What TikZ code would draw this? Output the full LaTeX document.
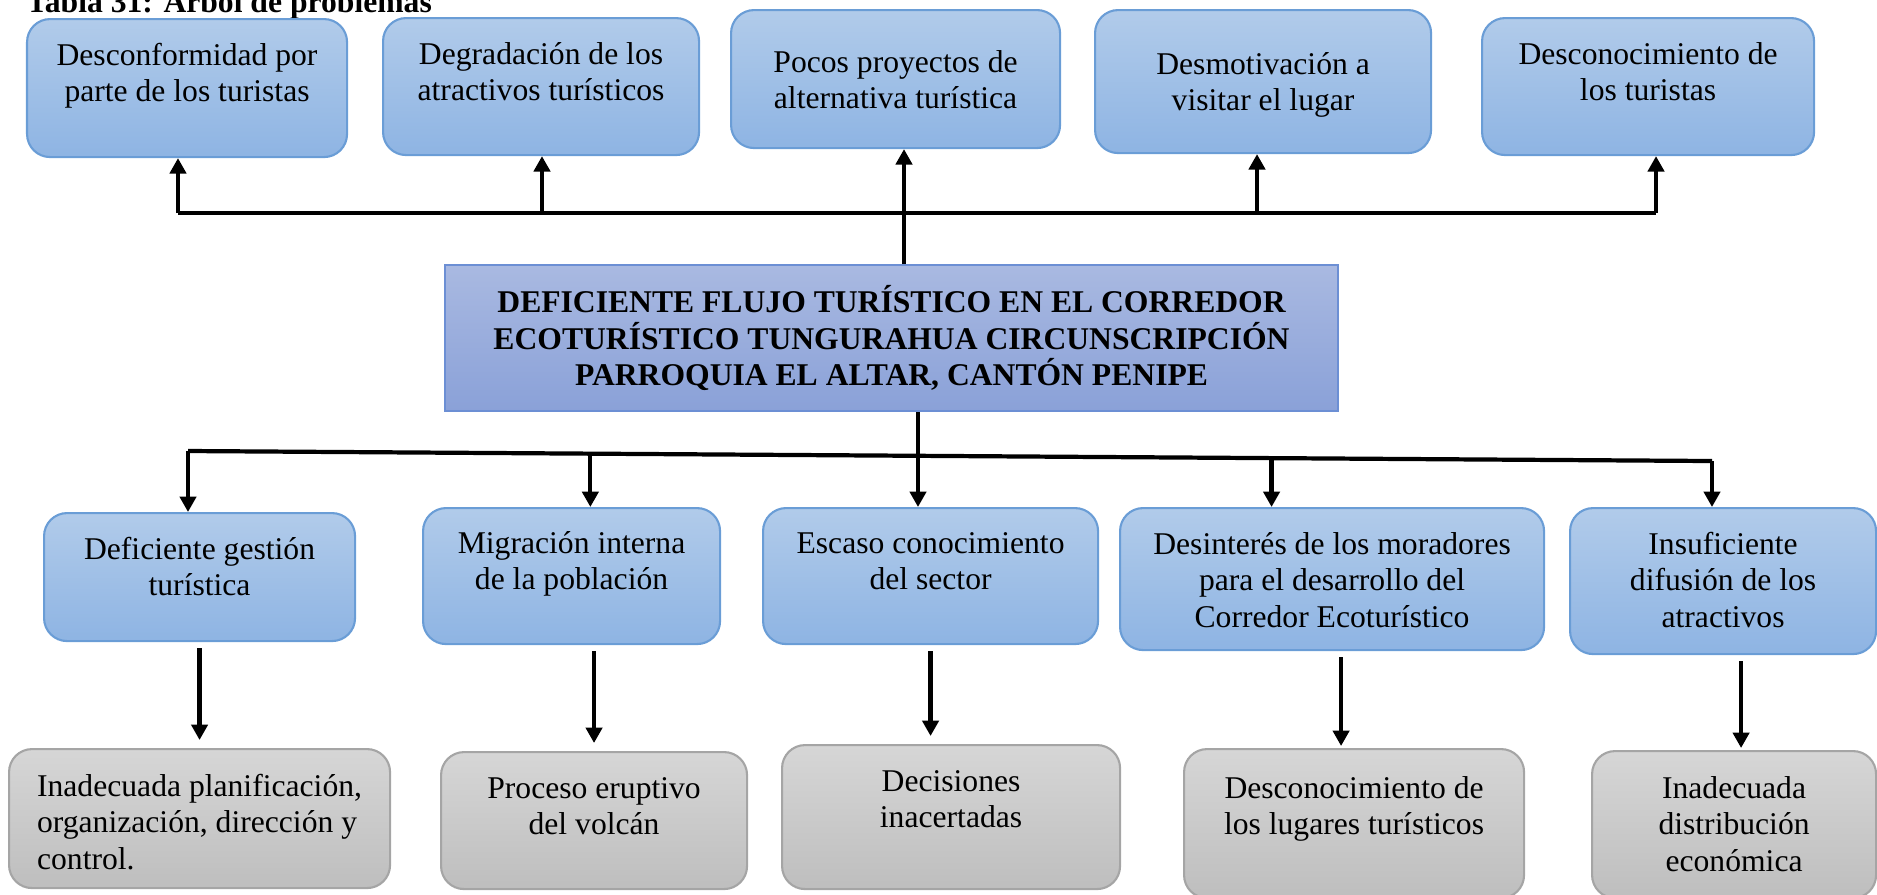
\documentclass[tikz,border=0pt]{standalone}
\usepackage{fontspec}
\setmainfont{Liberation Serif}
\usetikzlibrary{arrows.meta,calc}

\definecolor{azularriba}{HTML}{B1CBEA}
\definecolor{azulabajo}{HTML}{8EB4E3}
\definecolor{azulborde}{HTML}{6A9DD6}
\definecolor{grisarriba}{HTML}{D6D6D6}
\definecolor{grisabajo}{HTML}{BEBEBE}
\definecolor{grisborde}{HTML}{A5A5A5}
\definecolor{lilaarriba}{HTML}{A9B9E1}
\definecolor{lilaabajo}{HTML}{8AA1D8}
\definecolor{lilaborde}{HTML}{6C8FD4}

\tikzset{
    caja/.style n args={3}{minimum width=#1, text height=#2, text depth=#3},
    efecto/.style={draw=azulborde, line width=0.6pt, rounded corners=0.23cm,
        top color=azularriba, bottom color=azulabajo, inner sep=0pt,
        align=center, anchor=north west, font=\fontsize{9}{10.4}\selectfont},
    raiz/.style={efecto, draw=grisborde, top color=grisarriba, bottom color=grisabajo},
    problema/.style={draw=lilaborde, line width=0.6pt, top color=lilaarriba,
        bottom color=lilaabajo, inner sep=0pt, align=center, anchor=north west,
        minimum width=8.93cm, minimum height=1.46cm,
        font=\bfseries\fontsize{9}{10.5}\selectfont},
    tronco/.style={line width=1.2pt},
    flecha/.style={line width=1.2pt, ->}
}

\begin{document}
\begin{tikzpicture}[>={Triangle[width=4.6pt,length=4.4pt]}]
    \useasboundingbox (0,0) rectangle (18.77,-8.94);

    \node[anchor=base west, inner sep=0pt, font=\bfseries\fontsize{9}{10.4}\selectfont]
        (titulo) at (0.26,-0.125) {Tabla 31: Árbol de problemas};

    % efectos
    \node[efecto, caja={3.20cm}{0.826cm}{0.554cm}] (e1) at (0.26,-0.18) {Desconformidad por\\parte de los turistas};
    \node[efecto, caja={3.16cm}{0.826cm}{0.544cm}] (e2) at (3.82,-0.17) {Degradación de los\\atractivos turísticos};
    \node[efecto, caja={3.29cm}{0.986cm}{0.394cm}] (e3) at (7.30,-0.09) {Pocos proyectos de\\alternativa turística};
    \node[efecto, caja={3.36cm}{1.006cm}{0.424cm}] (e4) at (10.94,-0.09) {Desmotivación a\\visitar el lugar};
    \node[efecto, caja={3.32cm}{0.826cm}{0.544cm}] (e5) at (14.81,-0.17) {Desconocimiento de\\los turistas};

    \node[problema] (prob) at (4.44,-2.64)
        {DEFICIENTE FLUJO TURÍSTICO EN EL CORREDOR\\ECOTURÍSTICO TUNGURAHUA CIRCUNSCRIPCIÓN\\PARROQUIA EL ALTAR, CANTÓN PENIPE};

    % causas
    \node[efecto, caja={3.11cm}{0.826cm}{0.454cm}] (c1) at (0.43,-5.12) {Deficiente gestión\\turística};
    \node[efecto, caja={2.97cm}{0.816cm}{0.544cm}] (c2) at (4.22,-5.07) {Migración interna\\de la población};
    \node[efecto, caja={3.35cm}{0.816cm}{0.544cm}] (c3) at (7.62,-5.07) {Escaso conocimiento\\del sector};
    \node[efecto, caja={4.24cm}{1.192cm}{0.228cm}] (c4) at (11.19,-5.07) {Desinterés de los moradores\\para el desarrollo del\\Corredor Ecoturístico};
    \node[efecto, caja={3.06cm}{1.192cm}{0.268cm}] (c5) at (15.69,-5.07) {Insuficiente\\difusión de los\\atractivos};

    % raices
    \node[raiz, align=left, caja={3.81cm}{1.202cm}{0.188cm}] (s1) at (0.08,-7.48) {Inadecuada planificación,\\organización, dirección y\\control.};
    \node[raiz, caja={3.06cm}{0.826cm}{0.544cm}] (s2) at (4.40,-7.51) {Proceso eruptivo\\del volcán};
    \node[raiz, caja={3.38cm}{0.826cm}{0.614cm}] (s3) at (7.81,-7.44) {Decisiones\\inacertadas};
    \node[raiz, caja={3.40cm}{0.856cm}{0.634cm}] (s4) at (11.83,-7.48) {Desconocimiento de\\los lugares turísticos};
    \node[raiz, caja={2.84cm}{1.202cm}{0.268cm}] (s5) at (15.91,-7.50) {Inadecuada\\distribución\\económica};

    % ramas de arriba
    \coordinate (u1) at (1.78,-2.13);
    \coordinate (u2) at (5.42,-2.13);
    \coordinate (u3) at (9.04,-2.13);
    \coordinate (u4) at (12.57,-2.13);
    \coordinate (u5) at (16.56,-2.13);
    \draw[tronco] (u1) -- (u5);
    \draw[tronco] (prob.north -| u3) -- (u3);
    \foreach \i in {1,...,5}
        \draw[flecha] (u\i) -- (u\i |- e\i.south);

    % ramas de abajo
    \coordinate (v1) at (1.88,-4.51);
    \coordinate (v5) at (17.12,-4.61);
    \coordinate (v2) at ($(v1)!0.264!(v5)$);
    \coordinate (v3) at ($(v1)!0.479!(v5)$);
    \coordinate (v4) at ($(v1)!0.711!(v5)$);
    \draw[tronco] (v1) -- (v5);
    \draw[tronco] (prob.south -| v3) -- (v3);
    \foreach \i in {1,...,5}
        \draw[flecha] (v\i) -- (v\i |- c\i.north);

    \draw[flecha, shorten <=0.06cm, shorten >=0.08cm] (s1.north |- c1.south) -- (s1.north);
    \draw[flecha, shorten <=0.06cm, shorten >=0.08cm] (s2.north |- c2.south) -- (s2.north);
    \draw[flecha, shorten <=0.06cm, shorten >=0.08cm] (c3.south) -- (c3.south |- s3.north);
    \draw[flecha, shorten <=0.06cm, shorten >=0.02cm] ($(s4.north |- c4.south)+(-0.13,0)$) -- ($(s4.north)+(-0.13,0)$);
    \draw[flecha, shorten <=0.06cm, shorten >=0.02cm] ($(s5.north |- c5.south)+(0.07,0)$) -- ($(s5.north)+(0.07,0)$);
\end{tikzpicture}
\end{document}
